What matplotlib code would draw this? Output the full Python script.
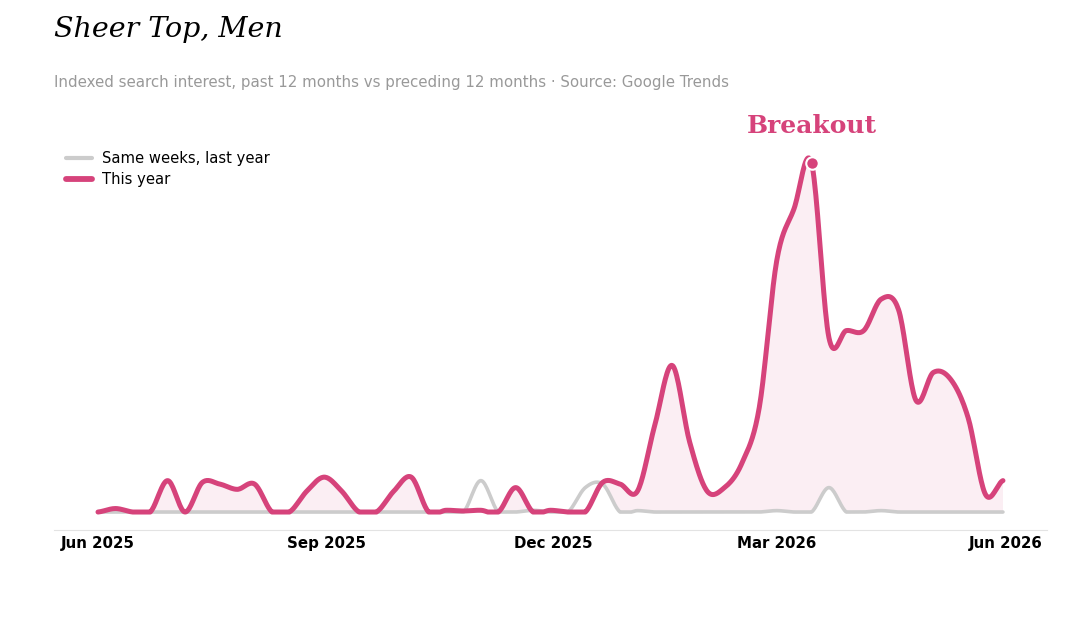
import matplotlib

matplotlib.use("Agg")
import matplotlib.dates as mdates
import matplotlib.pyplot as plt
import numpy as np
import pandas as pd

PINK = "#d6437b"
GREY = "#cccccc"

weeks = pd.date_range("2025-06-01", periods=53, freq="7D")

this_year = [
    0, 1, 0, 0, 9, 0, 8.5, 8, 6.5, 8,
    0, 0, 6, 10, 6, 0, 0, 6, 10, 0,
    0.5, 0.3, 0.5, 0, 7, 0, 0.5, 0, 0, 8.5,
    8, 6, 25, 42, 20, 6, 7, 14, 30, 72,
    87, 100, 50, 52, 52, 61, 58, 32, 40, 38,
    27, 5, 9,
]
last_year = [
    0, 0, 0, 0, 0, 0, 0, 0, 0, 0,
    0, 0, 0, 0, 0, 0, 0, 0, 0, 0,
    0, 0, 9, 0, 0, 0.5, 0, 0, 7, 8,
    0, 0.4, 0, 0, 0, 0, 0, 0, 0, 0.4,
    0, 0, 7, 0, 0, 0.4, 0, 0, 0, 0,
    0, 0, 0,
]
peak_idx = 41


def smooth(values, n=20):
    """Catmull-Rom through the weekly values, for a rounded line."""
    p = np.asarray(values, dtype=float)
    p = np.concatenate([[p[0]], p, [p[-1]]])
    t = np.linspace(0, 1, n, endpoint=False)
    out = []
    for i in range(1, len(p) - 2):
        p0, p1, p2, p3 = p[i - 1], p[i], p[i + 1], p[i + 2]
        out.append(0.5 * (2 * p1 + (-p0 + p2) * t
                          + (2 * p0 - 5 * p1 + 4 * p2 - p3) * t ** 2
                          + (-p0 + 3 * p1 - 3 * p2 + p3) * t ** 3))
    out.append([p[-2]])
    return np.clip(np.concatenate(out), 0, None)


x_num = mdates.date2num(weeks)
xs = np.interp(np.linspace(0, len(weeks) - 1, (len(weeks) - 1) * 20 + 1),
               np.arange(len(weeks)), x_num)
ys_this = smooth(this_year)
ys_last = smooth(last_year)

fig = plt.figure(figsize=(10.8, 6.24), dpi=100)
ax = fig.add_axes([0.05, 0.1506, 0.9194, 0.673])

ax.fill_between(xs, ys_last, ys_this, where=ys_this >= ys_last,
                color=PINK, alpha=0.09, linewidth=0, interpolate=True)
ax.plot(xs, ys_last, color=GREY, lw=2.6, label="Same weeks, last year",
        solid_capstyle="round")
ax.plot(xs, ys_this, color=PINK, lw=3.6, label="This year",
        solid_capstyle="round")
ax.plot(x_num[peak_idx], this_year[peak_idx], "o", color=PINK, ms=9,
        mec="white", mew=1.5, zorder=5)
ax.text(x_num[peak_idx], 110.5, "Breakout", color=PINK, fontsize=18,
        fontweight="bold", family="DejaVu Serif", ha="center", va="center")

ax.set_xlim(x_num[0] - 17.7, x_num[0] + 381.7)
ax.set_ylim(-5.16, 115.2)
ticks = pd.to_datetime(["2025-06-01", "2025-09-01", "2025-12-01",
                        "2026-03-01", "2026-06-01"])
ax.set_xticks(mdates.date2num(ticks), [d.strftime("%b %Y") for d in ticks],
              fontweight="bold", fontsize=10.8)
ax.tick_params(axis="x", length=0, pad=4)
ax.set_yticks([])
for side in ("top", "left", "right"):
    ax.spines[side].set_visible(False)
ax.spines["bottom"].set_color("#e3e3e3")

leg = ax.legend(loc="upper left", bbox_to_anchor=(0.056, 0.767),
                bbox_transform=fig.transFigure, frameon=False, fontsize=10.6,
                handlelength=1.75, handletextpad=0.7, borderaxespad=0,
                labelspacing=0.4)
leg.get_lines()[0].set_linewidth(3)
leg.get_lines()[1].set_linewidth(4.2)

fig.text(0.05, 0.953, "Sheer Top, Men", fontsize=20.5, style="italic",
         family="DejaVu Serif", va="center")
fig.text(0.05, 0.867, "Indexed search interest, past 12 months vs preceding "
         "12 months \u00b7 Source: Google Trends", fontsize=10.8,
         color="#999999", va="center")

fig.savefig("out.png", dpi=100)
